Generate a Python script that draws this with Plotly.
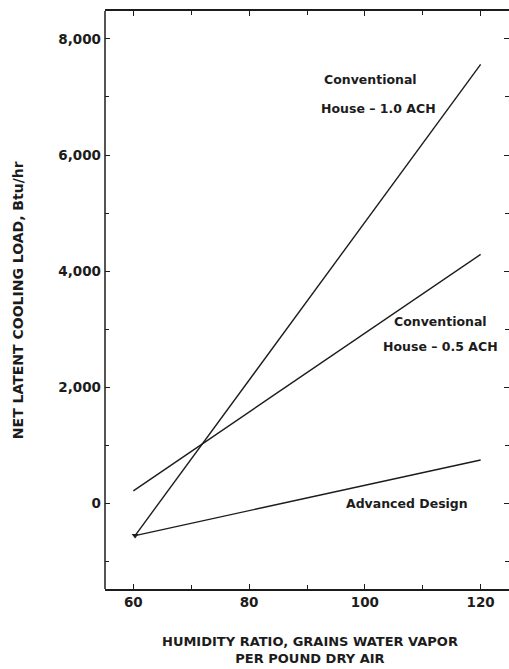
import plotly.graph_objects as go

# Data
x_start_conv05 = 60
x_start_other = 60.3
x_end = 120
conv_10_ach = [-550, 7560]     # Conventional House - 1.0 ACH
conv_05_ach = [220, 4290]      # Conventional House - 0.5 ACH
advanced = [-550, 750]         # Advanced Design

x_tick_vals = [60, 80, 100, 120]
y_tick_vals = [0, 2000, 4000, 6000, 8000]

ink = "#1c1c1c"
font_family = "DejaVu Sans"

fig = go.Figure()
fig.add_trace(go.Scatter(x=[x_start_other, x_end], y=conv_10_ach, mode="lines",
                         line=dict(color=ink, width=1.4), showlegend=False))
fig.add_trace(go.Scatter(x=[x_start_conv05, x_end], y=conv_05_ach, mode="lines",
                         line=dict(color=ink, width=1.4), showlegend=False))
fig.add_trace(go.Scatter(x=[x_start_other, x_end], y=advanced, mode="lines",
                         line=dict(color=ink, width=1.4), showlegend=False))
fig.add_trace(go.Scatter(x=[x_start_other], y=[advanced[0]], mode="markers",
                         marker=dict(symbol="triangle-down", size=6, color=ink),
                         showlegend=False))

ann_font = dict(family=font_family, size=12.5, color=ink, weight="bold")
labels = [
    ("Conventional", 100.9, 7300),
    ("House \u2013 1.0 ACH", 102.3, 6800),
    ("Conventional", 113.0, 3140),
    ("House \u2013 0.5 ACH", 113.0, 2700),
    ("Advanced Design", 107.3, 0),
]
for text, x, y in labels:
    fig.add_annotation(x=x, y=y, text=text, showarrow=False, font=ann_font,
                       xref="x", yref="y")

fig.add_annotation(text="HUMIDITY RATIO, GRAINS WATER VAPOR<br>PER POUND DRY AIR",
                   xref="paper", yref="paper", x=0.507, y=-0.1055, xanchor="center",
                   yanchor="middle", showarrow=False,
                   font=dict(family=font_family, size=13, color=ink, weight="bold"))
fig.add_annotation(text="NET LATENT COOLING LOAD, Btu/hr",
                   xref="paper", yref="paper", x=-0.215, y=0.5, xanchor="center",
                   yanchor="middle", textangle=-90, showarrow=False,
                   font=dict(family=font_family, size=14, color=ink, weight="bold"))

# left axis line (right side shows ticks only)
fig.add_shape(type="line", xref="paper", yref="paper", x0=0, x1=0, y0=0, y1=1,
              line=dict(color=ink, width=1.5))

fig.update_xaxes(range=[55.1, 124.9], tickvals=x_tick_vals, ticks="inside", ticklen=5,
                 tickcolor=ink, showline=True, linecolor=ink, linewidth=1.5,
                 mirror="ticks", showgrid=False, zeroline=False,
                 minor=dict(dtick=10, tick0=60, ticks="inside", ticklen=4, tickcolor=ink),
                 tickfont=dict(family=font_family, size=13.5, color=ink, weight="bold"))
fig.update_yaxes(range=[-1470, 8480], tickvals=y_tick_vals, tickformat=",",
                 ticks="inside", ticklen=5, tickcolor=ink, showline=False,
                 mirror="ticks", showgrid=False, zeroline=False,
                 minor=dict(dtick=1000, tick0=0, ticks="inside", ticklen=4, tickcolor=ink),
                 tickfont=dict(family=font_family, size=13.5, color=ink, weight="bold"),
                 ticklabelstandoff=3)

fig.update_layout(width=509, height=669, margin=dict(l=105, r=0, t=11, b=80),
                  plot_bgcolor="white", paper_bgcolor="white")

fig.write_html("out.html", config={"displayModeBar": False},
               post_script="document.body.style.margin='0';document.body.style.overflow='hidden';")
